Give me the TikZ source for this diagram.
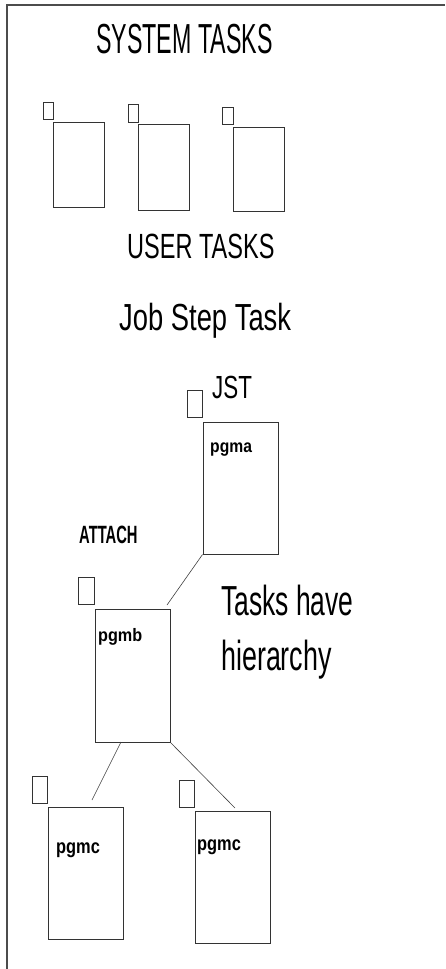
\documentclass[tikz,border=0pt]{standalone}
\usepackage{fontspec}
\setmainfont{Liberation Sans}
\usepackage{graphicx}
\newcommand\txt[3]{{\fontsize{#1}{#1}\selectfont\scalebox{#2}[1]{#3}}}
\newcommand\btxt[3]{{\fontsize{#1}{#1}\selectfont\bfseries\scalebox{#2}[1]{#3}}}
\begin{document}
\begin{tikzpicture}[x=1pt,y=-1pt,
  lbl/.style={inner sep=0pt, anchor=base west, text=black},
  mainsys/.style={draw=black!80, line width=0.9pt, inner sep=0pt, minimum width=51pt, minimum height=85pt},
  mainusr/.style={draw=black!80, line width=0.9pt, inner sep=0pt, minimum width=75pt, minimum height=132pt},
  tabsys/.style={draw=black!80, line width=0.9pt, inner sep=0pt, minimum width=10pt, minimum height=17pt},
  tabusr/.style={draw=black!80, line width=0.9pt, inner sep=0pt, minimum width=15.5pt, minimum height=27pt},
  link/.style={draw=black!75, line width=0.6pt},
  frame/.style={draw=black!70, line width=1.2pt}]
\useasboundingbox (0,0) rectangle (445,969);
% frame
\coordinate (fbl) at (7,969);
\coordinate (ftl) at (7,5);
\coordinate (ftr) at (445,5);
\draw[frame] (fbl) -- (ftl) -- (ftr);

% titles
\node[lbl] (sys) at (96,53) {\txt{42}{0.553}{SYSTEM TASKS}};
\node[lbl] (usr) at (127,258) {\txt{35}{0.672}{USER TASKS}};
\node[lbl] (jst) at (119,330) {\txt{37.7}{0.726}{Job Step Task}};
\node[lbl] (jstl) at (212,398) {\txt{32}{0.70}{JST}};
\node[lbl] (att) at (79,543) {\btxt{25}{0.59}{ATTACH}};
\node[lbl] (hier1) at (221,615) {\txt{42}{0.63}{Tasks have}};
\node[lbl] (hier2) at (221,670) {\txt{42}{0.64}{hierarchy}};

% system task boxes
\node[mainsys] (s1) at (78.5,164.5) {};
\node[tabsys] (s1t) at (48,110.5) {};
\node[mainsys, minimum height=86pt] (s2) at (163.5,167) {};
\node[tabsys, minimum height=18pt] (s2t) at (133,113) {};
\node[mainsys, minimum height=84pt] (s3) at (258.5,169) {};
\node[tabsys, minimum width=11pt] (s3t) at (227.5,115.5) {};

% user task boxes
\node[mainusr] (pa) at (240.5,488) {};
\node[tabusr] (pat) at (195,404) {};
\node[lbl] at (210,452) {\btxt{18}{0.87}{pgma}};

\node[mainusr, minimum height=133pt] (pb) at (132.5,675.5) {};
\node[tabusr] (pbt) at (86.5,591) {};
\node[lbl] at (98,641) {\btxt{18}{0.9}{pgmb}};

\node[mainusr] (pc1) at (85.5,873) {};
\node[tabusr] (pc1t) at (40,789.5) {};
\node[lbl] at (56,853) {\btxt{20}{0.82}{pgmc}};

\node[mainusr] (pc2) at (232.5,877) {};
\node[tabusr] (pc2t) at (187,793.5) {};
\node[lbl] at (197,850) {\btxt{20}{0.82}{pgmc}};

% connectors
\coordinate (ea) at (167,605);
\coordinate (sb1) at (121,742);
\coordinate (e1) at (92,800);
\coordinate (e2) at (235,808);
\draw[link] (pa.south west) -- (ea);
\draw[link] (sb1) -- (e1);
\draw[link] (pb.south east) -- (e2);
\end{tikzpicture}
\end{document}
